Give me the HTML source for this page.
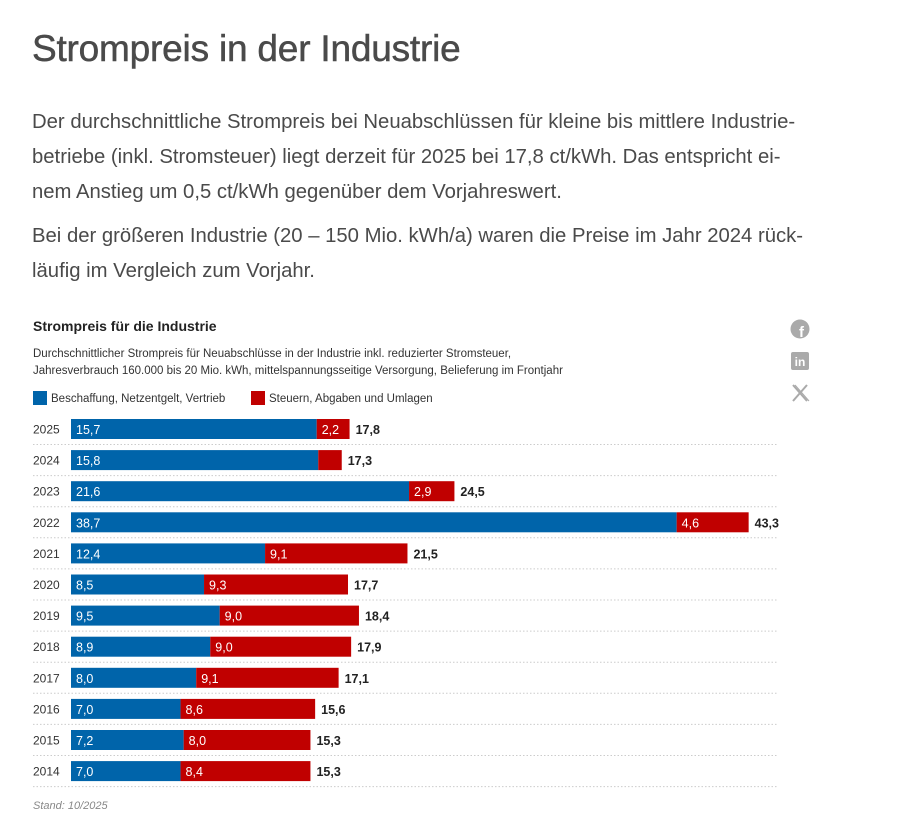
<!DOCTYPE html>
<html><head><meta charset="utf-8"><style>
body{margin:0;width:905px;height:818px;background:#fff;font-family:"Liberation Sans",sans-serif;color:#444;overflow:hidden;position:relative}
h1{position:absolute;left:32px;top:28px;margin:0;font-size:37px;font-weight:normal;color:#4a4a4a;letter-spacing:-0.2px;-webkit-text-stroke:0.5px #4a4a4a}
.p{position:absolute;left:32px;font-size:20.3px;line-height:35px;color:#4a4a4a;white-space:nowrap}
#ct{position:absolute;left:33px;top:318px;font-size:14px;font-weight:bold;color:#222}
.sub{position:absolute;left:33px;font-size:11.5px;color:#333}
.lg{position:absolute;top:391px;font-size:11.5px;color:#333}
.lg i{display:inline-block;width:14px;height:14px;vertical-align:-3px;margin-right:4px}
#stand{position:absolute;left:33px;top:800px;font-size:11px;font-style:italic;color:#888}
</style></head><body>
<h1>Strompreis in der Industrie</h1>
<div class="p" style="top:105px">Der durchschnittliche Strompreis bei Neuabschlüssen für kleine bis mittlere Industrie-<br>betriebe (inkl. Stromsteuer) liegt derzeit für 2025 bei 17,8 ct/kWh. Das entspricht ei-<br>nem Anstieg um 0,5 ct/kWh gegenüber dem Vorjahreswert.</div>
<div class="p" style="top:219px">Bei der größeren Industrie (20 – 150 Mio. kWh/a) waren die Preise im Jahr 2024 rück-<br>läufig im Vergleich zum Vorjahr.</div>
<div id="ct">Strompreis für die Industrie</div>
<div class="sub" style="top:348px">Durchschnittlicher Strompreis für Neuabschlüsse in der Industrie inkl. reduzierter Stromsteuer,</div>
<div class="sub" style="top:365px">Jahresverbrauch 160.000 bis 20 Mio. kWh, mittelspannungsseitige Versorgung, Belieferung im Frontjahr</div>
<div class="lg" style="left:33px"><i style="background:#0064aa"></i>Beschaffung, Netzentgelt, Vertrieb</div>
<div class="lg" style="left:251px"><i style="background:#c00000"></i>Steuern, Abgaben und Umlagen</div>
<svg style="position:absolute;left:789px;top:318px" width="24" height="90">
<g><circle cx="11" cy="11" r="9.5" fill="#aaa"/><text x="12.5" y="19" font-size="15" font-weight="bold" fill="#fff" text-anchor="middle">f</text></g>
<g><rect x="2" y="34" width="18" height="18" rx="2" fill="#aaa"/><text x="11" y="48" font-size="12" font-weight="bold" fill="#fff" text-anchor="middle">in</text></g>
<g><path d="M4 67 L18 83 M18 67 L4 83" stroke="#aaa" stroke-width="2"/><path d="M6 67 L20 83" stroke="#aaa" stroke-width="1"/></g>
</svg>
<svg id="chart" style="position:absolute;left:0;top:0" width="905" height="818"></svg>
<div id="stand">Stand: 10/2025</div>
<script>
const years=["2025","2024","2023","2022","2021","2020","2019","2018","2017","2016","2015","2014"];
const procurement=[15.7,15.8,21.6,38.7,12.4,8.5,9.5,8.9,8.0,7.0,7.2,7.0];
const taxes=[2.2,1.5,2.9,4.6,9.1,9.3,9.0,9.0,9.1,8.6,8.0,8.4];
const totals=[17.8,17.3,24.5,43.3,21.5,17.7,18.4,17.9,17.1,15.6,15.3,15.3];
const showTax=[true,false,true,true,true,true,true,true,true,true,true,true];
const svg=document.getElementById('chart');const NS='http://www.w3.org/2000/svg';
const x0=71,k=15.65;const xs=v=>x0+v*k;const ys=i=>419+i*31.1;
const fmt=v=>v.toFixed(1).replace('.',',');
function mk(t,a){const e=document.createElementNS(NS,t);for(const n in a)e.setAttribute(n,a[n]);svg.appendChild(e);return e;}
years.forEach((y,i)=>{
 const top=ys(i);
 let l=mk('text',{x:33,y:top+14.5,'font-size':12,fill:'#333'});l.textContent=y;
 
 
 let b=mk('rect',{x:x0,y:top,width:xs(procurement[i])-x0,height:20,fill:'#0064aa'});
 
 
 let r=mk('rect',{x:xs(procurement[i]),y:top,width:xs(totals[i])-xs(procurement[i]),height:20,fill:'#c00000'});
 
 
 let t1=mk('text',{x:x0+5,y:top+15,'font-size':12.5,fill:'#fff'});t1.textContent=fmt(procurement[i]);
 
 
 if(showTax[i]){let t2=mk('text',{x:xs(procurement[i])+5,y:top+15,'font-size':12.5,fill:'#fff'});t2.textContent=fmt(taxes[i]);
 
 }
 let t3=mk('text',{x:xs(totals[i])+6,y:top+15,'font-size':12.5,'font-weight':'bold',fill:'#222'});t3.textContent=fmt(totals[i]);
 
 
 let g=mk('line',{x1:33,x2:778,y1:top+25.5,y2:top+25.5,stroke:'#ccc','stroke-dasharray':'1.5,2'});
 
 
});
</script>
</body></html>
